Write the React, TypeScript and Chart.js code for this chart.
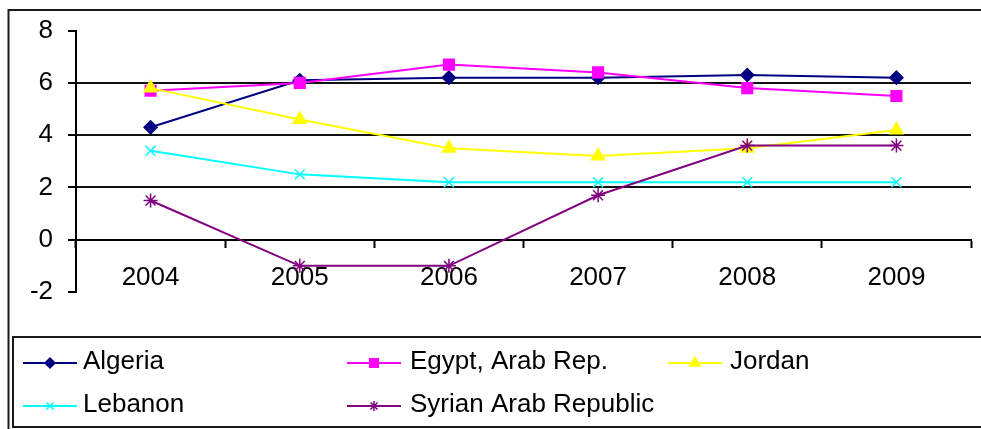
import React, { useEffect, useRef } from 'react';
import { Chart, registerables } from 'chart.js';
import { drawPoint } from 'chart.js/helpers';

Chart.register(...registerables);

// ---- data ----
const years = ['2004', '2005', '2006', '2007', '2008', '2009'];
const seriesNames = ['Algeria', 'Egypt, Arab Rep.', 'Jordan', 'Lebanon', 'Syrian Arab Republic'];
const algeria = [4.3, 6.1, 6.2, 6.2, 6.3, 6.2];
const egypt = [5.7, 6.0, 6.7, 6.4, 5.8, 5.5];
const jordan = [5.8, 4.6, 3.5, 3.2, 3.5, 4.2];
const lebanon = [3.4, 2.5, 2.2, 2.2, 2.2, 2.2];
const syria = [1.5, -1.0, -1.0, 1.7, 3.6, 3.6];
const yMin = -2;
const yMax = 8;
const yStep = 2;

// ---- styles ----
const seriesValues = [algeria, egypt, jordan, lebanon, syria];
const colors = ['#000080', '#FF00FF', '#FFFF00', '#00FFFF', '#800080'];
const pointStyles = ['rectRot', 'rect', 'triangle', 'crossRot', 'star'];
const pointRadii = [6.5, 7.5, 7.5, 7, 7];
const legendRadii = [5, 6, 6, 5, 5];
const FONT = "'Liberation Sans', Arial, sans-serif";
const FONT_SIZE = 26;

const framePlugin = {
  id: 'frame',
  beforeDraw(chart: any) {
    const ctx = chart.ctx;
    ctx.save();
    ctx.fillStyle = '#fff';
    ctx.fillRect(0, 0, chart.width, chart.height);
    ctx.restore();
  },
  afterDraw(chart: any) {
    const ctx = chart.ctx;
    ctx.save();
    ctx.strokeStyle = '#1a1a1a';
    ctx.lineWidth = 2;
    // outer frame
    ctx.beginPath();
    ctx.moveTo(8.5, 440);
    ctx.lineTo(8.5, 10);
    ctx.lineTo(1000, 10);
    ctx.stroke();
    // legend box
    ctx.strokeRect(13, 337, 1000, 90);

    // legend items
    const colLine = [23, 347, 668];
    const colText = [83, 410, 730];
    const rowMid = [363, 406];
    const rowBase = [369, 412];
    ctx.font = `${FONT_SIZE}px ${FONT}`;
    ctx.textBaseline = 'alphabetic';
    ctx.textAlign = 'left';
    seriesNames.forEach((name, i) => {
      const c = i % 3;
      const r = Math.floor(i / 3);
      const x0 = colLine[c];
      const y = rowMid[r];
      ctx.strokeStyle = colors[i];
      ctx.fillStyle = colors[i];
      ctx.lineWidth = 2;
      ctx.beginPath();
      ctx.moveTo(x0, y);
      ctx.lineTo(x0 + 54, y);
      ctx.stroke();
      ctx.lineWidth = 1.5;
      drawPoint(ctx, { pointStyle: pointStyles[i] as any, radius: legendRadii[i], rotation: 0, borderWidth: 1.5 } as any, x0 + 27, y);
      ctx.fillStyle = '#000';
      ctx.fillText(name, colText[c], rowBase[r]);
    });
    ctx.restore();
  },
};

export default function App() {
  const ref = useRef<HTMLCanvasElement>(null);

  useEffect(() => {
    const datasets = seriesNames.map((name, i) => ({
      label: name,
      data: seriesValues[i],
      borderColor: colors[i],
      backgroundColor: colors[i],
      borderWidth: 2,
      pointStyle: pointStyles[i] as any,
      pointRadius: pointRadii[i],
      pointBorderWidth: 1.5,
      pointBackgroundColor: colors[i],
      pointBorderColor: colors[i],
      tension: 0,
      order: seriesNames.length - 1 - i,
    }));

    const chart = new Chart(ref.current as HTMLCanvasElement, {
      type: 'line',
      data: { labels: years, datasets },
      plugins: [framePlugin],
      options: {
        animation: false,
        responsive: false,
        devicePixelRatio: 1,
        layout: { padding: { left: 0, top: 28, right: 10, bottom: 137 } },
        plugins: {
          legend: { display: false },
          tooltip: { enabled: false },
        },
        scales: {
          x: {
            type: 'category',
            offset: true,
            position: { y: 0 } as any,
            grid: {
              display: true,
              offset: true,
              drawOnChartArea: false,
              drawTicks: true,
              tickLength: 7,
              tickColor: '#000',
              tickWidth: 2,
              color: '#000',
            },
            border: { display: true, color: '#000', width: 2 },
            ticks: {
              color: '#000',
              font: { family: FONT, size: FONT_SIZE },
              padding: 16,
              maxRotation: 0,
              autoSkip: false,
            },
            afterFit: (s: any) => {
              s.height = 0;
            },
          },
          y: {
            min: yMin,
            max: yMax,
            ticks: {
              stepSize: yStep,
              color: '#000',
              font: { family: FONT, size: FONT_SIZE },
              padding: 15,
            },
            grid: {
              color: (c: any) =>
                c.tick && (c.tick.value === yMax || c.tick.value === yMin) ? 'rgba(0,0,0,0)' : '#111',
              lineWidth: 2,
              tickLength: 8,
              tickColor: '#000',
              tickWidth: 2,
            },
            border: { display: true, color: '#000', width: 2 },
            afterFit: (s: any) => {
              s.width = 76;
            },
          },
        },
      },
    });
    return () => chart.destroy();
  }, []);

  return (
    <div style={{ position: 'fixed', left: 0, top: 0, width: 981, height: 429, background: '#fff' }}>
      <canvas ref={ref} width={981} height={429} style={{ display: 'block', width: 981, height: 429 }} />
    </div>
  );
}
